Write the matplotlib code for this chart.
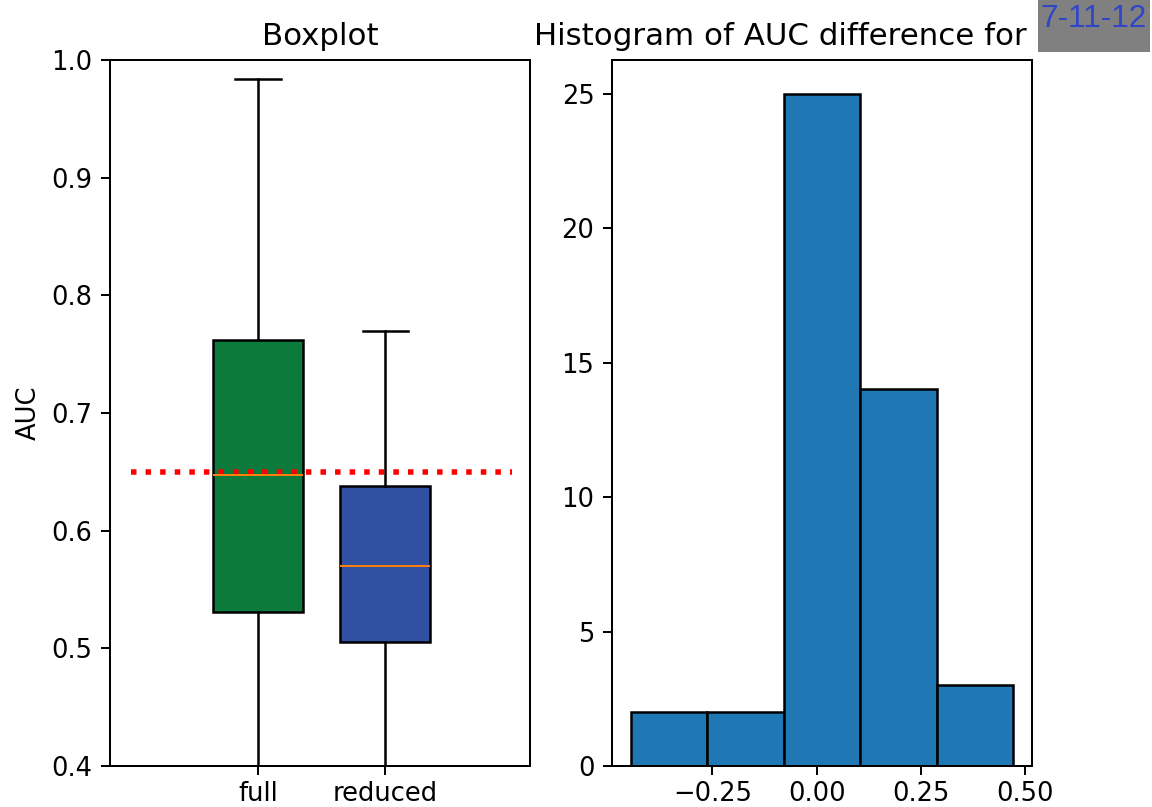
import matplotlib.pyplot as plt
from matplotlib.patches import Rectangle

# boxplot stats
labels = ['full', 'reduced']
q1 = [0.531, 0.505]
med = [0.647, 0.570]
q3 = [0.762, 0.638]
whislo = [0.30, 0.33]
whishi = [0.984, 0.770]
box_colors = ['#0b7a3b', '#3150a1']
threshold = 0.65

# histogram of AUC difference
bin_edges = [-0.445, -0.262, -0.079, 0.104, 0.287, 0.470]
counts = [2, 2, 25, 14, 3]
run_id = '7-11-12'

plt.rcParams['font.size'] = 10.3
plt.rcParams['xtick.major.pad'] = 2.4

fig = plt.figure(figsize=(6.4, 807 / 180), dpi=180)
ax1 = fig.add_axes([0.0955, 0.0508, 0.3645, 0.8749])
ax2 = fig.add_axes([0.5312, 0.0508, 0.3646, 0.8749])

stats = []
for i in range(len(labels)):
    stats.append(dict(label=labels[i], q1=q1[i], med=med[i], q3=q3[i],
                      whislo=whislo[i], whishi=whishi[i], fliers=[]))
bp = ax1.bxp(stats, positions=[1, 2], widths=0.71, patch_artist=True,
             showfliers=False,
             medianprops=dict(color='#ff7f0e', linewidth=0.8),
             whiskerprops=dict(color='black'), capprops=dict(color='black'))
for patch, c in zip(bp['boxes'], box_colors):
    patch.set_facecolor(c)
    patch.set_edgecolor('black')
ax1.hlines(threshold, 0, 3, color='red', linestyle=':', linewidth=2.2)
ax1.set_xlim(-0.165, 3.14)
ax1.set_ylim(0.4, 1.0)
ax1.set_ylabel('AUC')
ax1.set_title('Boxplot')

centers = [(bin_edges[i] + bin_edges[i + 1]) / 2 for i in range(len(counts))]
ax2.hist(centers, bins=bin_edges, weights=counts, color='#1f77b4',
         edgecolor='black')
ax2.set_xticks([-0.25, 0.0, 0.25, 0.5])
ax2.set_title('Histogram of AUC difference for', loc='left', x=-0.185)

# grey label box pasted in the corner
fig.add_artist(Rectangle((1038 / 1152, 1 - 52 / 807), 112 / 1152, 52 / 807,
                         transform=fig.transFigure, facecolor='#808080',
                         edgecolor='none'))
fig.text(1040 / 1152, 1 - 4 / 807, run_id, ha='left', va='top',
         color='#2f46c8', fontsize=12.6, family='Liberation Sans')

fig.savefig('out.png', dpi=180)
